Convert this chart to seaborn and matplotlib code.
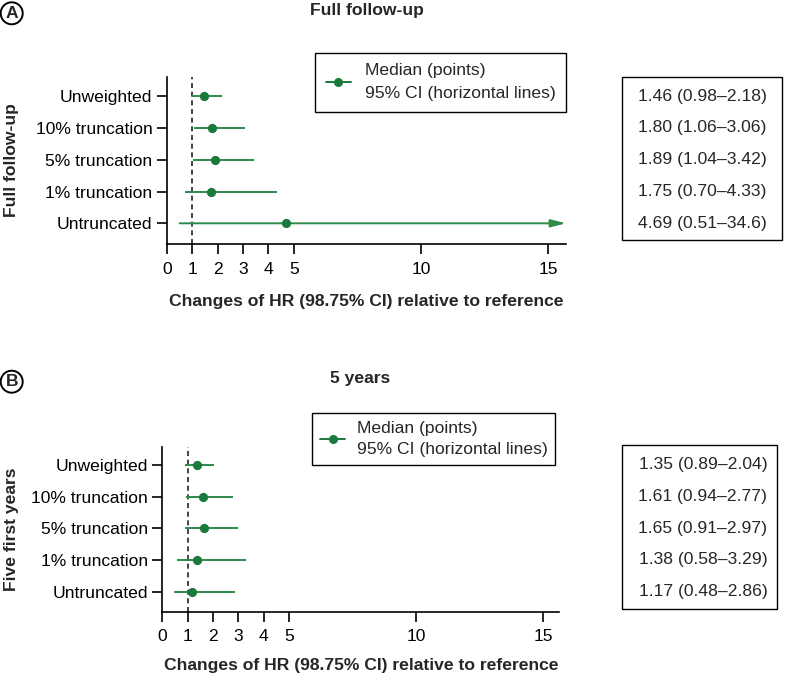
import numpy as np
import pandas as pd
import matplotlib
matplotlib.use("Agg")
import matplotlib.pyplot as plt
from matplotlib.lines import Line2D
from matplotlib.patches import Rectangle, FancyArrowPatch, ArrowStyle
from matplotlib.transforms import blended_transform_factory
import seaborn as sns

# ---------------- data ----------------
categories = ["Unweighted", "10% truncation", "5% truncation", "1% truncation", "Untruncated"]

full_median = [1.46, 1.80, 1.89, 1.75, 4.69]
full_lower = [0.98, 1.06, 1.04, 0.70, 0.51]
full_upper = [2.18, 3.06, 3.42, 4.33, 34.6]

five_median = [1.35, 1.61, 1.65, 1.38, 1.17]
five_lower = [0.89, 0.94, 0.91, 0.58, 0.48]
five_upper = [2.04, 2.77, 2.97, 3.29, 2.86]

xticks = [0, 1, 2, 3, 4, 5, 10, 15]
panel_titles = ["Full follow-up", "5 years"]
panel_ylabels = ["Full follow-up", "Five first years"]
panel_letters = ["A", "B"]
xlabel = "Changes of HR (98.75% CI) relative to reference"
legend_label = "Median (points)\n95% CI (horizontal lines)"

# ---------------- style ----------------
sns.set_style("white")
plt.rcParams["font.family"] = ["Liberation Sans", "DejaVu Sans"]
FS = 12.6
PT_COL = "#1a7a3c"
LN_COL = "#2f8a4c"

W, H = 787, 675
fig = plt.figure(figsize=(W / 100, H / 100), dpi=100)


def fx(px):
    return px / W


def fy(py):
    return 1 - py / H


panels = [
    dict(median=full_median, lower=full_lower, upper=full_upper,
         ax_px=(166.7, 76.7, 566.0, 244.3), xmax=15.70, ylim=(4.66, -0.61),
         box_px=(622.0, 76.7, 781.7, 240.0), text_x=702.5, labelpad=12.5,
         legend_px=(315, 53), leg_pad=0.6, leg_ls=1.65, leg_htp=0.8,
         title_px=(367, 15), letter_px=(11.7, 13.3)),
    dict(median=five_median, lower=five_lower, upper=five_upper,
         ax_px=(162.3, 446.7, 559.3, 611.7), xmax=15.63, ylim=(4.63, -0.57),
         box_px=(622.3, 445.0, 776.7, 609.3), text_x=703.0, labelpad=10.0,
         legend_px=(312, 413), leg_pad=0.45, leg_ls=1.55, leg_htp=0.65,
         title_px=(360, 383.5), letter_px=(11.7, 381.7)),
]


def fmt(v):
    return f"{v:.2f}" if v < 10 else f"{v:.1f}"


for i, p in enumerate(panels):
    l, t, r, b = p["ax_px"]
    ax = fig.add_axes([fx(l), fy(b), (r - l) / W, (b - t) / H])
    pos = np.arange(len(categories))
    df = pd.DataFrame({"cat": categories, "y": pos, "median": p["median"],
                       "lower": p["lower"], "upper": p["upper"]})

    xmax = p["xmax"]
    # CI lines
    inside = df[df["upper"] <= xmax]
    ax.hlines(inside["y"], inside["lower"], inside["upper"], color=LN_COL, lw=1.4, zorder=2)
    outside = df[df["upper"] > xmax]
    for _, row in outside.iterrows():
        arr = FancyArrowPatch((row["lower"], row["y"]), (xmax, row["y"]),
                              arrowstyle=ArrowStyle("-|>", head_length=9, head_width=2.3),
                              mutation_scale=1, shrinkA=0, shrinkB=0,
                              color=LN_COL, lw=1.4, zorder=2, clip_on=False)
        ax.add_patch(arr)

    # reference line
    ax.axvline(1, color="#222222", lw=1.2, dashes=(3, 2.2), zorder=1)

    # median points
    sns.scatterplot(data=df, x="median", y="y", ax=ax, color=PT_COL, s=44,
                    linewidth=0, zorder=3, legend=False)

    ax.set_xlim(0, xmax)
    ax.set_ylim(*p["ylim"])
    ax.set_yticks(pos)
    ax.set_yticklabels(categories)
    ax.set_xticks(xticks)
    ax.set_xticklabels([str(v) for v in xticks])
    ax.set_ylabel("")
    ax.set_xlabel(xlabel, fontsize=FS, fontweight="bold", labelpad=p["labelpad"])
    sns.despine(ax=ax)
    for s in ["left", "bottom"]:
        ax.spines[s].set_color("black")
        ax.spines[s].set_linewidth(1.2)
    ax.tick_params(axis="both", which="major", length=7.2, width=1.2, color="black",
                   labelsize=FS, labelcolor="black", direction="out", bottom=True, left=True)
    ax.tick_params(axis="y", pad=3.2)
    ax.tick_params(axis="x", pad=5.5)

    # legend
    handle = Line2D([], [], color=PT_COL, lw=1.4, marker="o", markersize=6.5,
                    markeredgewidth=0)
    lx, ly = p["legend_px"]
    leg = ax.legend([handle], [legend_label], loc="upper left",
                    bbox_to_anchor=(fx(lx), fy(ly)), bbox_transform=fig.transFigure,
                    fontsize=FS, frameon=True, fancybox=False, framealpha=1,
                    edgecolor="black", borderpad=p["leg_pad"], handlelength=1.45,
                    handletextpad=p["leg_htp"], borderaxespad=0)
    for txt in leg.get_texts():
        txt.set_linespacing(p["leg_ls"])
    leg.get_frame().set_linewidth(1.0)

    # right text box
    bl, bt, br, bb = p["box_px"]
    fig.patches.append(Rectangle((fx(bl), fy(bb)), (br - bl) / W, (bb - bt) / H,
                                 transform=fig.transFigure, fill=False,
                                 edgecolor="black", lw=1.0))
    trans = blended_transform_factory(fig.transFigure, ax.transData)
    for _, row in df.iterrows():
        ax.text(fx(p["text_x"]), row["y"],
                f"{fmt(row['median'])} ({fmt(row['lower'])}\u2013{fmt(row['upper'])})",
                transform=trans, ha="center", va="center", fontsize=FS, clip_on=False)

    # titles / labels
    tx, ty = p["title_px"]
    fig.text(fx(tx), fy(ty), panel_titles[i], ha="center", va="baseline",
             fontsize=FS, fontweight="bold")
    fig.text(fx(11.7), fy((t + b) / 2), panel_ylabels[i], rotation=90,
             ha="center", va="center", fontsize=FS, fontweight="bold")
    cx, cy = p["letter_px"]
    fig.text(fx(cx), fy(cy), panel_letters[i], ha="center", va="center",
             fontsize=FS, fontweight="bold",
             bbox=dict(boxstyle="circle,pad=0.2", fc="white", ec="black", lw=1.4))

fig.savefig("out.png", dpi=100)
